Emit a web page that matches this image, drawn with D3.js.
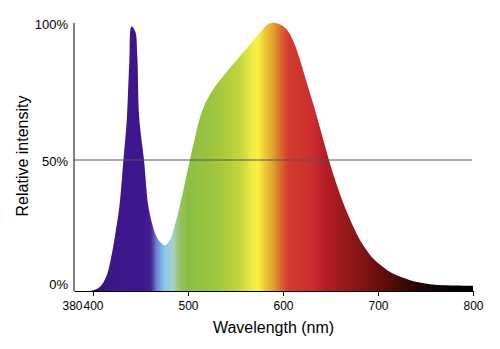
<!DOCTYPE html>
<html><head><meta charset="utf-8">
<script src="https://cdn.jsdelivr.net/npm/d3@7"></script>
<style>
html,body{margin:0;padding:0;background:#fff;}
svg{display:block;font-family:"Liberation Sans",Arial,Helvetica,sans-serif;}
</style></head>
<body>
<svg id="chart" width="500" height="349"></svg>
<script>
const wavelengths = [380, 395, 400, 405, 410, 415, 420, 424, 428, 432, 435.5, 438.3, 440.5, 444.5, 446.6, 448.7, 453.7, 458, 462, 466, 470, 475.5, 481, 486, 491, 496, 502, 507, 512, 518, 524, 530, 537, 545, 552, 558, 565, 572, 578, 583, 588, 593, 598, 603, 608, 613, 618, 623, 628, 633, 638, 643, 648, 653, 658, 663, 668, 674, 681, 688, 696, 705, 714, 723, 733, 744, 755, 765, 780, 800];
const intensity = [0, 0, 0.3, 1, 2.8, 6.5, 14.5, 23, 33, 50, 65, 88, 101, 99, 90, 66, 50, 33, 26, 21.5, 19, 17.5, 19.5, 25, 32, 40, 50, 58, 65.5, 71.5, 75.5, 78.8, 82, 85.5, 88.5, 91, 94, 97, 99.5, 101.5, 102.3, 102.2, 101.5, 100.2, 97.5, 93.5, 88, 82, 76, 70, 63.5, 57, 50.5, 44.5, 39, 34, 29.5, 24.5, 19.5, 15.6, 12, 9.3, 7, 5.5, 4.2, 3.2, 2.6, 2.3, 2.1, 2];
const xTicks = [380, 400, 500, 600, 700, 800];
const yTicks = [0, 50, 100];
const refLevel = [50];
const stopNm = [380, 420, 455, 461, 467, 475, 484, 492, 500, 530, 555, 568, 574, 582, 590, 598, 606, 630, 645, 660, 690, 720, 750, 780, 800];
const stopColor = ["#2a0c6a", "#3a1888", "#3e1690", "#44228e", "#6a84d0", "#8ac4ee", "#aacfcc", "#94c45a", "#8cbe44", "#a0c63c", "#c4d63e", "#f0ec44", "#f8f040", "#eac434", "#e0a030", "#d86a2c", "#d03c2e", "#cc2e2e", "#b41e24", "#a01a1e", "#781210", "#4a0a08", "#1a0404", "#060202", "#000000"];

const svg = d3.select("#chart");
const x = d3.scaleLinear().domain([380, 800]).range([74, 473]);
const y = d3.scaleLinear().domain([0, 100]).range([291, 29]);

const defs = svg.append("defs");
const grad = defs.append("linearGradient").attr("id", "spec")
  .attr("gradientUnits", "userSpaceOnUse")
  .attr("x1", x(380)).attr("x2", x(800)).attr("y1", 0).attr("y2", 0);
grad.selectAll("stop").data(stopNm).join("stop")
  .attr("offset", d => (d - 380) / 420)
  .attr("stop-color", (d, i) => stopColor[i]);

const data = wavelengths.map((w, i) => ({w, v: intensity[i]}));
const area = d3.area().x(d => x(d.w)).y0(y(0)).y1(d => y(d.v)).curve(d3.curveCatmullRom.alpha(0.5));
svg.append("path").datum(data).attr("d", area).attr("fill", "url(#spec)");

// reference line
svg.selectAll(".ref").data(refLevel).join("line").attr("class", "ref")
  .attr("x1", x(380)).attr("x2", x(800) - 1)
  .attr("y1", d => y(d)).attr("y2", d => y(d))
  .attr("stroke", "#555").attr("stroke-width", 1);

// axes
const xAxis = d3.axisBottom(x).tickValues(xTicks).tickSize(5).tickSizeOuter(0).tickFormat(d3.format("d"));
const gx = svg.append("g").attr("transform", `translate(0,${y(0)})`).call(xAxis);
gx.select(".domain").attr("stroke", "#000");
gx.selectAll(".tick line").attr("stroke", "#000").filter(d => d === 380).remove();
gx.selectAll(".tick text").attr("font-size", 12).attr("fill", "#000").attr("dy", "0.9em")
  .attr("font-family", "Liberation Sans, Arial, sans-serif");
gx.selectAll(".tick").filter(d => d === 380).select("text").attr("dx", -2);

const yAxis = d3.axisLeft(y).tickValues(yTicks).tickSize(0).tickSizeOuter(0).tickPadding(6).tickFormat(d => d + "%");
const gy = svg.append("g").attr("transform", `translate(${x(380)},0)`).call(yAxis);
gy.select(".domain").attr("stroke", "#000").attr("d", `M0,${y(0)}V${y(100) - 6}`);
gy.selectAll(".tick text").attr("font-size", 13).attr("fill", "#000")
  .attr("font-family", "Liberation Sans, Arial, sans-serif")
  .attr("dy", d => d === 0 ? "-0.2em" : d === 100 ? "-0.05em" : "0.45em");

svg.append("text").attr("x", (x(380) + x(800)) / 2).attr("y", 333)
  .attr("text-anchor", "middle").attr("font-size", 16).attr("fill", "#000")
  .text("Wavelength (nm)");
svg.append("text").attr("transform", "translate(28,156) rotate(-90)")
  .attr("text-anchor", "middle").attr("font-size", 16).attr("fill", "#000")
  .text("Relative intensity");
</script>
</body></html>
